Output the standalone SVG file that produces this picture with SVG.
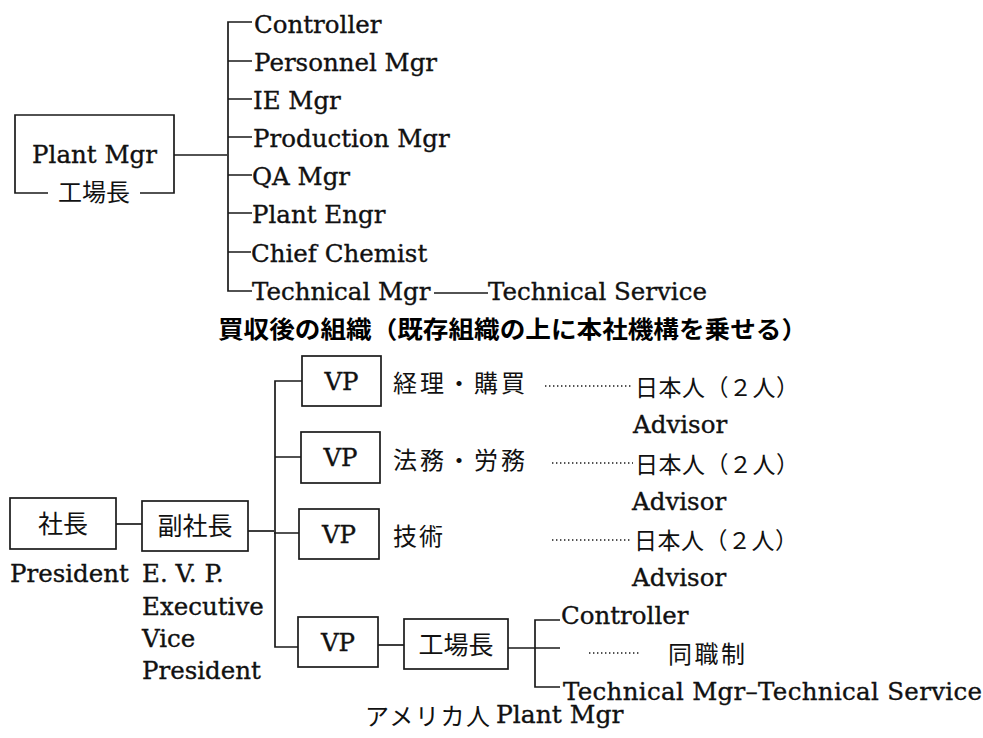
<svg xmlns="http://www.w3.org/2000/svg" width="983" height="738" viewBox="0 0 983 738">
<style>
.ln{fill:none;stroke:#1a1a1a;stroke-width:1.7}
.dot{fill:none;stroke:#1a1a1a;stroke-width:1.4;stroke-dasharray:1.4 2.6}
.en{font-family:"DejaVu Serif","Liberation Serif",serif;font-size:24.5px;fill:#111;stroke:#111;stroke-width:0.35}
.jp{font-family:"Noto Sans CJK JP","Noto Sans CJK SC",sans-serif;font-size:24px;fill:#111}
.tt{font-family:"Noto Sans CJK JP","Noto Sans CJK SC",sans-serif;font-size:24px;font-weight:bold;fill:#000}
.mid{text-anchor:middle}
</style>
<rect width="983" height="738" fill="#fff"/>

<!-- Top: existing plant organisation -->
<g id="plantmgr">
<path class="ln" d="M48,193 H15 V115 H174 V193 H140"/>
<text class="en mid" x="94.5" y="163">Plant Mgr</text>
<text class="jp mid" x="94" y="201">工場長</text>
</g>
<g id="top-children">
<text class="en" x="254" y="33">Controller</text>
<text class="en" x="254" y="71">Personnel Mgr</text>
<text class="en" x="253" y="109">IE Mgr</text>
<text class="en" x="253" y="147">Production Mgr</text>
<text class="en" x="252" y="185">QA Mgr</text>
<text class="en" x="252" y="223">Plant Engr</text>
<text class="en" x="251" y="262">Chief Chemist</text>
<text class="en" x="252" y="300">Technical Mgr</text>
<text class="en" x="488" y="300">Technical Service</text>
</g>
<g id="title">
<text class="tt" x="218" y="338" textLength="589" lengthAdjust="spacingAndGlyphs">買収後の組織（既存組織の上に本社機構を乗せる）</text>
</g>

<!-- Bottom: organisation after acquisition -->
<g id="president">
<rect class="ln" x="10" y="498" width="106" height="51"/>
<text class="jp mid" x="63" y="533" style="font-size:25px">社長</text>
<text class="en" x="10" y="582">President</text>
</g>
<g id="evp">
<rect class="ln" x="142" y="501" width="106" height="50"/>
<text class="jp mid" x="195" y="535" style="font-size:25px">副社長</text>
<text class="en" x="142" y="582">E. V. P.</text>
<text class="en" x="142" y="615">Executive</text>
<text class="en" x="142" y="647">Vice</text>
<text class="en" x="142" y="679">President</text>
</g>
<g id="vp1">
<rect class="ln" x="302" y="356" width="79" height="50"/>
<text class="en mid" x="341.5" y="390">VP</text>
<text class="jp" x="393" y="392" textLength="132" lengthAdjust="spacing">経理・購買</text>
</g>
<g id="vp2">
<rect class="ln" x="301" y="432" width="79" height="51"/>
<text class="en mid" x="340.5" y="466">VP</text>
<text class="jp" x="393" y="469" textLength="132" lengthAdjust="spacing">法務・労務</text>
</g>
<g id="vp3">
<rect class="ln" x="299" y="509" width="80" height="50"/>
<text class="en mid" x="339" y="543">VP</text>
<text class="jp" x="393" y="545" textLength="50" lengthAdjust="spacing">技術</text>
</g>
<g id="vp4">
<rect class="ln" x="298" y="617" width="80" height="50"/>
<text class="en mid" x="338" y="651">VP</text>
</g>
<g id="advisor1">
<text class="jp" x="635" y="396" textLength="164" lengthAdjust="spacing" style="font-size:23px">日本人（２人）</text>
<text class="en" x="633" y="433">Advisor</text>
</g>
<g id="advisor2">
<text class="jp" x="635" y="473" textLength="164" lengthAdjust="spacing" style="font-size:23px">日本人（２人）</text>
<text class="en" x="632" y="510">Advisor</text>
</g>
<g id="advisor3">
<text class="jp" x="634" y="549" textLength="164" lengthAdjust="spacing" style="font-size:23px">日本人（２人）</text>
<text class="en" x="632" y="586">Advisor</text>
</g>
<g id="plantmgr2">
<rect class="ln" x="404" y="619" width="104" height="50"/>
<text class="jp mid" x="456" y="654" style="font-size:25px">工場長</text>
<text class="jp" x="365" y="725" textLength="125" lengthAdjust="spacing" style="font-size:24px">アメリカ人</text>
<text class="en" x="496" y="723" style="font-size:25px">Plant Mgr</text>
</g>
<g id="plant-children">
<text class="en" x="561" y="624">Controller</text>
<text class="jp" x="668" y="663" textLength="77" lengthAdjust="spacing">同職制</text>
<text class="en" x="563" y="700" textLength="419" lengthAdjust="spacing">Technical Mgr–Technical Service</text>
</g>

<g id="connectors">
<!-- top tree -->
<path class="ln" d="M174,155 H227"/>
<path class="ln" d="M252,22 H228 V291 H252"/>
<path class="ln" d="M228,61 H252 M228,99 H252 M228,137 H252 M228,175 H252 M228,213 H252 M228,252 H251"/>
<path class="ln" d="M434,293 H488"/>
<!-- bottom tree -->
<path class="ln" d="M116,524 H142"/>
<path class="ln" d="M248,531 H274"/>
<path class="ln" d="M302,381 H275 V647 H298"/>
<path class="ln" d="M275,457 H301 M274,533 H299"/>
<path class="ln" d="M378,645 H404"/>
<path class="ln" d="M508,648 H560"/>
<path class="ln" d="M560,620 H535 V687 H560"/>
<!-- dotted advisor links -->
<path class="dot" d="M545,386 H633"/>
<path class="dot" d="M552,463 H633"/>
<path class="dot" d="M552,540 H632"/>
<path class="dot" d="M589,653 H640"/>
</g>
</svg>
